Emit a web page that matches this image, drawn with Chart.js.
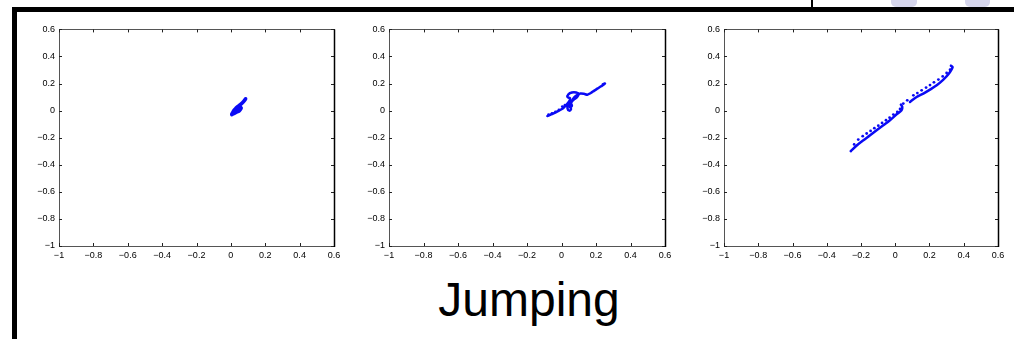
<!DOCTYPE html>
<html>
<head>
<meta charset="utf-8">
<script src="https://cdn.jsdelivr.net/npm/chart.js@4/dist/chart.umd.min.js"></script>
<style>
  body { margin: 0; background: #fff; width: 1014px; height: 339px; overflow: hidden; position: relative; }
  canvas { position: absolute; top: 20px; }
  .bar { position: absolute; background: #000; }
  .blob { position: absolute; top: 0; height: 7px; background: #d6d6ec; border-radius: 0 0 5px 5px; }
  #title { position: absolute; left: 329px; width: 400px; top: 276px; text-align: center;
           font: 48px "Liberation Sans", Arial, Helvetica, sans-serif; line-height: 48px; color: #000; }
</style>
</head>
<body>
<div class="bar" style="left:12px;top:7px;width:1002px;height:5px"></div>
<div class="bar" style="left:12px;top:7px;width:5px;height:332px"></div>
<div class="bar" style="left:811px;top:0;width:2px;height:7px"></div>
<div class="blob" style="left:891px;width:26px"></div>
<div class="blob" style="left:965px;width:25px"></div>

<canvas id="c1" width="327" height="250" style="left:19px"></canvas>
<canvas id="c2" width="328" height="250" style="left:349px"></canvas>
<canvas id="c3" width="326" height="250" style="left:684px"></canvas>

<div id="title">Jumping</div>

<script>
// axis range, same on all three panels
const axisMin = -1;
const axisMax = 0.6;
const axisStep = 0.2;

// panel 1 - small blob near the origin
const p1x = [0.005, 0.02, 0.035, 0.05, 0.06, 0.045, 0.03, 0.02, 0.03, 0.045, 0.06, 0.075, 0.086, 0.08, 0.065, 0.05, 0.035, 0.02, 0.01, 0.005, 0.025, 0.04, 0.055, 0.045, 0.03];
const p1y = [-0.03, -0.02, -0.01, 0.0, 0.02, 0.018, 0.01, 0.0, 0.02, 0.035, 0.05, 0.07, 0.088, 0.075, 0.055, 0.04, 0.025, 0.005, -0.015, -0.028, 0.005, 0.02, 0.03, 0.01, -0.005];

// panel 2 - line with a loop
const p2x = [-0.082, -0.06, -0.04, -0.02, 0.0, 0.015, 0.03, 0.045, 0.05, 0.035, 0.04, 0.06, 0.085, 0.1, 0.09, 0.07, 0.055, 0.05, 0.055, 0.045, 0.035, 0.04, 0.055, 0.06, 0.05, 0.06, 0.075, 0.095, 0.11, 0.13, 0.15, 0.17, 0.19, 0.21, 0.23, 0.252, 0.24];
const p2y = [-0.04, -0.028, -0.016, -0.004, 0.01, 0.025, 0.045, 0.07, 0.09, 0.1, 0.12, 0.134, 0.134, 0.124, 0.1, 0.08, 0.06, 0.035, 0.01, 0.0, 0.015, 0.04, 0.05, 0.035, 0.025, 0.07, 0.1, 0.118, 0.126, 0.124, 0.118, 0.13, 0.148, 0.164, 0.18, 0.2, 0.196];
const p2dotX = [-0.075, -0.055, -0.035, -0.015, 0.005, 0.02];
const p2dotY = [-0.03, -0.02, -0.01, 0.005, 0.03, 0.04];

// panel 3 - two solid strokes with a dotted return path
const p3lowX = [-0.26, -0.225, -0.186, -0.147, -0.109, -0.07, -0.031, 0.008, 0.037, 0.041, 0.033];
const p3lowY = [-0.3, -0.258, -0.219, -0.182, -0.145, -0.108, -0.071, -0.027, 0.003, 0.027, 0.045];
const p3upX = [0.086, 0.125, 0.164, 0.203, 0.242, 0.281, 0.31, 0.335, 0.325];
const p3upY = [0.064, 0.101, 0.126, 0.155, 0.187, 0.229, 0.268, 0.322, 0.332];
const p3dotX = [-0.24, -0.216, -0.19, -0.167, -0.144, -0.122, -0.099, -0.077, -0.054, -0.033, -0.011, 0.012, 0.028, 0.047, 0.07, 0.106, 0.129, 0.154, 0.18, 0.203, 0.226, 0.252, 0.277, 0.3, 0.32];
const p3dotY = [-0.25, -0.214, -0.189, -0.169, -0.15, -0.13, -0.111, -0.091, -0.071, -0.052, -0.029, -0.01, 0.012, 0.052, 0.076, 0.113, 0.13, 0.15, 0.17, 0.189, 0.209, 0.229, 0.253, 0.278, 0.302];

const blue = '#0a0af5';

function pts(xs, ys) {
  return xs.map((x, i) => ({ x: x, y: ys[i] }));
}

function fmt(v) {
  if (Math.abs(v) < 1e-9) return '0';
  const s = Math.abs(v).toFixed(1).replace(/\.0$/, '');
  return (v < 0 ? '\u2212' : '') + s;
}

// matlab style box with inward ticks on all four sides
const boxPlugin = {
  id: 'box',
  afterDraw(chart) {
    const ctx = chart.ctx;
    const a = chart.chartArea;
    const sx = chart.scales.x, sy = chart.scales.y;
    ctx.save();
    ctx.strokeStyle = '#555';
    ctx.lineWidth = 1;
    ctx.strokeRect(Math.round(a.left) + 0.5, Math.round(a.top) + 0.5, Math.round(a.width), Math.round(a.height));
    ctx.strokeStyle = '#222';
    ctx.beginPath();
    sx.ticks.forEach(t => {
      const p = Math.round(sx.getPixelForValue(t.value)) + 0.5;
      ctx.moveTo(p, a.top); ctx.lineTo(p, a.top + 3);
      ctx.moveTo(p, a.bottom); ctx.lineTo(p, a.bottom - 3);
    });
    sy.ticks.forEach(t => {
      const p = Math.round(sy.getPixelForValue(t.value)) + 0.5;
      ctx.moveTo(a.left, p); ctx.lineTo(a.left + 3, p);
      ctx.moveTo(a.right, p); ctx.lineTo(a.right - 3, p);
    });
    ctx.stroke();
    ctx.strokeStyle = '#000';
    ctx.lineWidth = 1.5;
    ctx.beginPath();
    ctx.moveTo(Math.round(a.right) + 0.5, a.top);
    ctx.lineTo(Math.round(a.right) + 0.5, a.bottom + 1);
    ctx.stroke();
    ctx.restore();
  }
};

function lineSet(data, w) {
  return { data: data, showLine: true, borderColor: blue, backgroundColor: blue, borderWidth: w,
           pointRadius: 0, tension: 0.3, borderCapStyle: 'round', borderJoinStyle: 'round' };
}
function dotSet(data) {
  return { data: data, showLine: false, borderColor: blue, backgroundColor: blue,
           pointRadius: 1.4, borderWidth: 0 };
}

function panel(id, datasets) {
  const tickFont = { family: '"Liberation Sans", Arial, Helvetica, sans-serif', size: 9 };
  return new Chart(document.getElementById(id), {
    type: 'scatter',
    data: { datasets: datasets },
    options: {
      responsive: false,
      animation: false,
      layout: { padding: { top: 9, right: 12, left: 0, bottom: 0 } },
      plugins: { legend: { display: false }, tooltip: { enabled: false } },
      scales: {
        x: {
          min: axisMin, max: axisMax,
          grid: { display: false, drawTicks: false }, border: { display: false },
          ticks: { stepSize: axisStep, color: '#000', font: tickFont, padding: 4, maxRotation: 0, callback: fmt },
          afterFit(s) { s.height = 24; }
        },
        y: {
          min: axisMin, max: axisMax,
          grid: { display: false, drawTicks: false }, border: { display: false },
          ticks: { stepSize: axisStep, color: '#000', font: tickFont, padding: 4, callback: fmt },
          afterFit(s) { s.width = 40; }
        }
      }
    },
    plugins: [boxPlugin]
  });
}

panel('c1', [lineSet(pts(p1x, p1y), 3.5)]);
panel('c2', [lineSet(pts(p2x, p2y), 2.5), dotSet(pts(p2dotX, p2dotY))]);
panel('c3', [lineSet(pts(p3lowX, p3lowY), 2.5), lineSet(pts(p3upX, p3upY), 2.5), dotSet(pts(p3dotX, p3dotY))]);
</script>
</body>
</html>
